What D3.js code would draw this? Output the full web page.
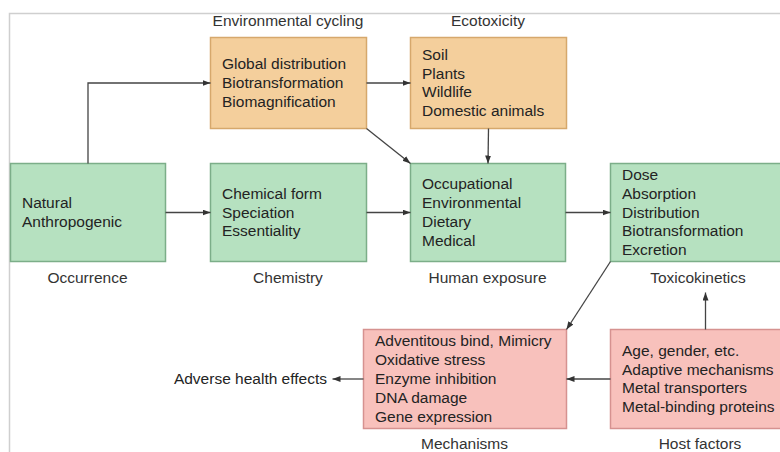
<!DOCTYPE html>
<html>
<head>
<meta charset="utf-8">
<script src="https://cdn.jsdelivr.net/npm/d3@7"></script>
<style>
  body { margin: 0; background: #fff; }
  svg text { font-family: "Liberation Sans", Arial, Helvetica, sans-serif; }
</style>
</head>
<body>
<script>
// boxes of the diagram
const boxNames = ["Occurrence", "Environmental cycling", "Ecotoxicity", "Chemistry",
  "Human exposure", "Toxicokinetics", "Mechanisms", "Host factors"];
const boxItems = [
  ["Natural", "Anthropogenic"],
  ["Global distribution", "Biotransformation", "Biomagnification"],
  ["Soil", "Plants", "Wildlife", "Domestic animals"],
  ["Chemical form", "Speciation", "Essentiality"],
  ["Occupational", "Environmental", "Dietary", "Medical"],
  ["Dose", "Absorption", "Distribution", "Biotransformation", "Excretion"],
  ["Adventitous bind, Mimicry", "Oxidative stress", "Enzyme inhibition", "DNA damage", "Gene expression"],
  ["Age, gender, etc.", "Adaptive mechanisms", "Metal transporters", "Metal-binding proteins"]
];
const boxKind = ["source", "environment", "environment", "source", "source", "source", "effect", "effect"];
const endLabel = "Adverse health effects";

// arrows: [from, from side, to, to side]
const links = [
  ["Occurrence", "top", "Environmental cycling", "left"],
  ["Environmental cycling", "right", "Ecotoxicity", "left"],
  ["Environmental cycling", "br", "Human exposure", "tl"],
  ["Ecotoxicity", "bottom", "Human exposure", "top"],
  ["Occurrence", "right", "Chemistry", "left"],
  ["Chemistry", "right", "Human exposure", "left"],
  ["Human exposure", "right", "Toxicokinetics", "left"],
  ["Toxicokinetics", "bl", "Mechanisms", "tr"],
  ["Host factors", "top", "Toxicokinetics", "title"],
  ["Host factors", "left", "Mechanisms", "right"],
  ["Mechanisms", "left", endLabel, "end"]
];

// layout (pixels)
const W = 780, H = 452;
const colX = d3.scaleOrdinal().domain([0, 1, 2, 3, 4]).range([10, 210, 410, 610, 363]);
const rowY = d3.scaleOrdinal().domain([0, 1, 2]).range([37, 163, 329]);
const place = {
  "Occurrence": [0, 1, 155, 98],
  "Environmental cycling": [1, 0, 156, 91],
  "Ecotoxicity": [2, 0, 156, 91],
  "Chemistry": [1, 1, 156, 98],
  "Human exposure": [2, 1, 155, 98],
  "Toxicokinetics": [3, 1, 190, 98],
  "Mechanisms": [4, 2, 203, 99],
  "Host factors": [3, 2, 190, 99]
};
const colors = {
  source: { fill: "#b6e1c0", stroke: "#7cae89" },
  environment: { fill: "#f4cf9c", stroke: "#d6a86c" },
  effect: { fill: "#f8c1bc", stroke: "#d69290" }
};
const fs = 15.5;
const lineH = 18.8;

const svg = d3.select("body").append("svg")
  .attr("width", W)
  .attr("height", H);

svg.append("defs").append("marker")
  .attr("id", "head")
  .attr("markerUnits", "userSpaceOnUse")
  .attr("markerWidth", 9).attr("markerHeight", 7)
  .attr("refX", 8).attr("refY", 3)
  .attr("orient", "auto")
  .append("path")
  .attr("d", "M0,0 L8,3 L0,6 Z")
  .attr("fill", "#333");

// faint frame of the figure
svg.append("path")
  .attr("d", `M9.5,${H} V13.5 H${W}`)
  .attr("fill", "none")
  .attr("stroke", "#cfcfcf")
  .attr("stroke-width", 1.5);

const boxes = boxNames.map((name, i) => {
  const p = place[name];
  return { name, items: boxItems[i], kind: boxKind[i],
    x: colX(p[0]), y: rowY(p[1]), w: p[2], h: p[3], top: p[1] === 0 };
});
const byName = {};
boxes.forEach(b => byName[b.name] = b);

function anchor(b, side) {
  switch (side) {
    case "top": return [b.x + b.w / 2, b.y];
    case "bottom": return [b.x + b.w / 2, b.y + b.h];
    case "left": return [b.x, b.y + b.h / 2];
    case "right": return [b.x + b.w, b.y + b.h / 2];
    case "tl": return [b.x, b.y];
    case "tr": return [b.x + b.w, b.y];
    case "bl": return [b.x, b.y + b.h];
    case "br": return [b.x + b.w, b.y + b.h];
  }
}

// boxes
const g = svg.selectAll("g.box").data(boxes).enter().append("g").attr("class", "box");
g.append("rect")
  .attr("x", d => d.x + 0.5).attr("y", d => d.y + 0.5)
  .attr("width", d => d.w).attr("height", d => d.h)
  .attr("fill", d => colors[d.kind].fill)
  .attr("stroke", d => colors[d.kind].stroke)
  .attr("stroke-width", 1.5);
g.each(function(d) {
  const n = d.items.length;
  const first = d.y + d.h / 2 + 5.5 - (n - 1) * lineH / 2;
  d3.select(this).selectAll("text.item").data(d.items).enter().append("text")
    .attr("class", "item")
    .attr("x", d.x + 12)
    .attr("y", (t, i) => first + i * lineH)
    .attr("font-size", fs)
    .attr("fill", "#232323")
    .text(t => t);
});
// titles
g.append("text")
  .attr("x", d => d.name === "Host factors" ? 700 : d.name === "Toxicokinetics" ? 698 : d.x + d.w / 2)
  .attr("y", d => d.top ? d.y - 11 : d.y + d.h + (d.name === "Mechanisms" || d.name === "Host factors" ? 21 : 22))
  .attr("text-anchor", "middle")
  .attr("font-size", fs)
  .attr("fill", "#333")
  .text(d => d.name);

// end label
const mech = byName["Mechanisms"];
const endX = mech.x - 31, endY = mech.y + mech.h / 2;
svg.append("text")
  .attr("x", endX - 5).attr("y", endY + 5.5)
  .attr("text-anchor", "end")
  .attr("font-size", fs)
  .attr("fill", "#232323")
  .text(endLabel);

// arrows
links.forEach(([s, ss, t, ts]) => {
  const a = anchor(byName[s], ss);
  let b;
  if (ts === "end") b = [endX, endY];
  else if (ts === "title") { const tb = byName[t]; b = [a[0], tb.y + tb.h + 31]; }
  else b = anchor(byName[t], ts);
  let pts;
  if (ss === "top" && ts === "left") pts = [a, [a[0], b[1]], b];
  else pts = [a, b];
  svg.append("path")
    .attr("d", d3.line()(pts.map(p => [p[0] + 0.5, p[1] + 0.5])))
    .attr("fill", "none")
    .attr("stroke", "#444")
    .attr("stroke-width", 1.3)
    .attr("marker-end", "url(#head)");
});
</script>
</body>
</html>
